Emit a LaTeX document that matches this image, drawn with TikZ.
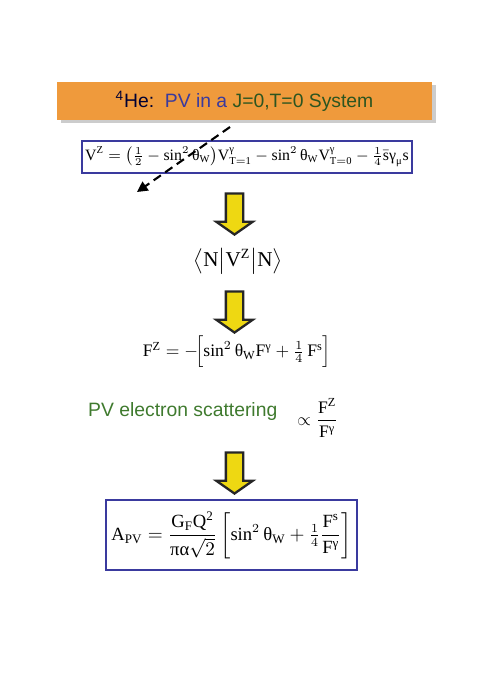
\documentclass[tikz,border=0pt]{standalone}
\usepackage{amsmath}
\usepackage{fontspec}
\setmainfont{Liberation Serif}
\newfontfamily\slidesans{Liberation Sans}
\usepackage{tikz}
\usetikzlibrary{shapes.arrows, shadows, arrows.meta, positioning}

\definecolor{slideorange}{HTML}{EF9A3C}
\definecolor{slideblue}{HTML}{3A3A9E}
\definecolor{slidegreen}{HTML}{3F7A2E}
\definecolor{arrowyellow}{HTML}{EED812}

% upright greek letters as on the slide
\newcommand{\uth}{\text{θ}}
\newcommand{\ugam}{\text{γ}}
\newcommand{\umu}{\text{μ}}
\newcommand{\upi}{\text{π}}
\newcommand{\ual}{\text{α}}

\begin{document}
\begin{tikzpicture}[
    eqbox/.style={draw=slideblue, line width=1.2pt, inner sep=2pt},
    eqtext/.style={font=\fontsize{9}{11}\selectfont},
    downarrow/.style={single arrow, draw=black!85, line width=1.3pt, fill=arrowyellow,
        rotate=-90, minimum height=0.82cm, minimum width=0.68cm,
        inner xsep=0pt, inner ysep=0.15cm,
        single arrow head extend=0.19cm, single arrow tip angle=110}
    ]
    \useasboundingbox (0,0) rectangle (10,-13.76);

    % Title banner
    \node[fill=slideorange, minimum width=7.5cm, minimum height=0.76cm,
          drop shadow={shadow xshift=0.07cm, shadow yshift=-0.06cm, fill=black!40},
          font=\slidesans\fontsize{11}{13}\selectfont] (title) at (4.89,-2.02)
          {\textcolor{black!80!blue}{\textsuperscript{4}He:}\ \ \textcolor{slideblue}{PV in a} \textcolor{slidegreen!70!black}{J=0,T=0 System}};

    % Vector current of the Z
    \node[eqbox, eqtext, minimum width=6.44cm, minimum height=0.64cm] (vz) at (4.94,-3.14)
          {$\mathrm{V^Z} = \bigl(\tfrac12 - \sin^2\uth_{\mathrm W}\bigr)\mathrm V^{\ugam}_{\mathrm{T=1}}
           - \sin^2\uth_{\mathrm W}\mathrm V^{\ugam}_{\mathrm{T=0}} - \tfrac14\bar{\mathrm s}\ugam_{\umu}\mathrm s$};

    % Dashed pointer through the equation
    \coordinate (dashstart) at (4.6,-2.54);
    \coordinate (dashend) at (2.74,-3.84);
    \draw[line width=1.2pt, dash pattern=on 5pt off 3pt, -{Triangle[length=6pt, width=6pt]}] (dashstart) -- (dashend);

    % Matrix element
    \node[font=\fontsize{12}{14}\selectfont] (me) at (4.76,-5.22)
          {$\bigl\langle \mathrm N \bigr| \mathrm{V^Z} \bigl| \mathrm N \bigr\rangle$};

    % Form factor
    \node[font=\fontsize{10}{12}\selectfont] (fz) at (4.74,-7.04)
          {$\mathrm{F^Z} = -\!\Bigl[\sin^2\uth_{\mathrm W}\mathrm F^{\ugam} + \tfrac14\,\mathrm{F^s}\Bigr]$};

    % Scattering line
    \node[anchor=west, text=slidegreen, font=\slidesans\fontsize{11}{13}\selectfont] (pv) at (1.64,-8.22)
          {PV electron scattering};
    \node[anchor=west, inner sep=0pt, font=\fontsize{10}{12}\selectfont] (prop) at (5.94,-8.36)
          {$\propto \dfrac{\mathrm{F^Z}}{\mathrm F^{\ugam}}$};

    % Asymmetry
    \node[eqbox, line width=1.6pt, font=\fontsize{10.6}{13}\selectfont, minimum width=5.02cm, minimum height=1.4cm] (apv) at (4.63,-10.7)
          {$\mathrm{A_{PV}} = \dfrac{\mathrm{G_F Q^2}}{\upi\ual\sqrt2}\left[\sin^2\uth_{\mathrm W} + \tfrac14\dfrac{\mathrm{F^s}}{\mathrm F^{\ugam}}\right]$};

    % Yellow block arrows
    \node[downarrow] (arr1) at (4.69,-4.22) {};
    \node[downarrow] (arr2) at (4.69,-6.18) {};
    \node[downarrow] (arr3) at (4.69,-9.4) {};
\end{tikzpicture}
\end{document}
